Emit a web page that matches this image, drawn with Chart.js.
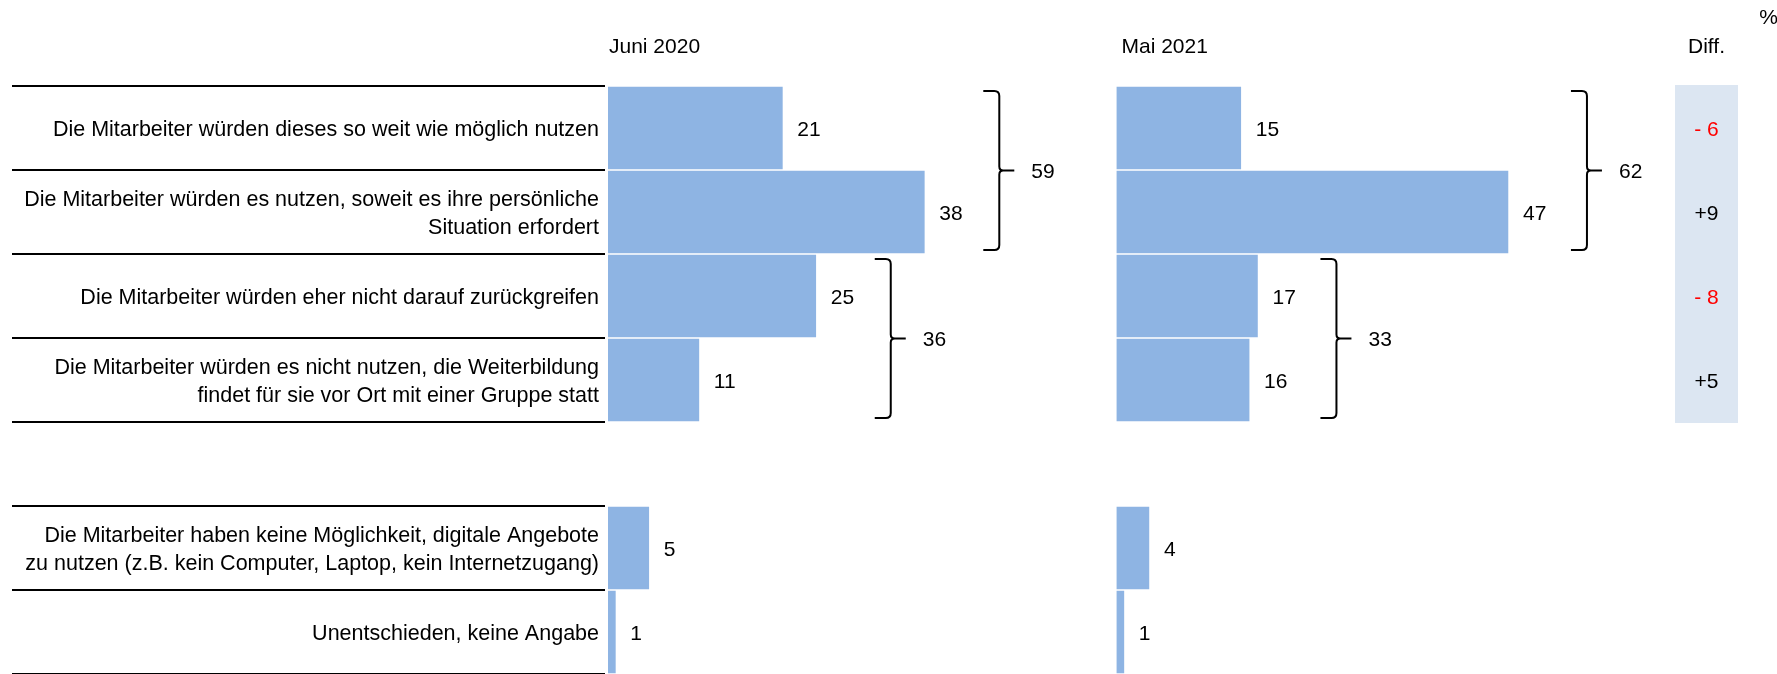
<!DOCTYPE html>
<html lang="de">
<head>
  <meta charset="UTF-8" />
  <title>Nutzung digitaler Weiterbildungsangebote</title>
  <script src="https://cdn.jsdelivr.net/npm/chart.js"></script>
  <style>
    html, body { margin: 0; padding: 0; background: #fff; }
    #wrap { position: relative; width: 1777px; height: 674px; }
  </style>
</head>
<body>
  <div id="wrap"><canvas id="chart" width="1777" height="674"></canvas></div>

  <script>
    // Antwortkategorien (leere Zeile trennt den unteren Block ab)
    const categories = [
      'Die Mitarbeiter würden dieses so weit wie möglich nutzen',
      ['Die Mitarbeiter würden es nutzen, soweit es ihre persönliche', 'Situation erfordert'],
      'Die Mitarbeiter würden eher nicht darauf zurückgreifen',
      ['Die Mitarbeiter würden es nicht nutzen, die Weiterbildung', 'findet für sie vor Ort mit einer Gruppe statt'],
      '',
      ['Die Mitarbeiter haben keine Möglichkeit, digitale Angebote', 'zu nutzen (z.B. kein Computer, Laptop, kein Internetzugang)'],
      'Unentschieden, keine Angabe'
    ];
    const juni2020 = [21, 38, 25, 11, null, 5, 1];
    const mai2021 = [15, 47, 17, 16, null, 4, 1];
    const periods = ['Juni 2020', 'Mai 2021'];
    const braceGroups = [[0, 1], [2, 3]];
    const diffRows = [0, 1, 2, 3];

    const FONT = "'Liberation Sans', Arial, sans-serif";
    const FS = 21;
    const LABEL_FS = 21.5;
    const LINE_H = 28;
    const BAR = '#8EB4E3';
    const UNIT = 8.35;          // Pixel pro Prozentpunkt
    const LEFT = 608;           // Beginn Balken Juni 2020
    const MAI_START = 1116.5;   // Beginn Balken Mai 2021
    const RIGHT = 1777;
    const DIFF_X = 1675, DIFF_W = 63;
    const BRACE_GAP = [58, 62]; // Abstand Klammer zum längsten Balken je Zeitpunkt

    function rowBounds(y, i) {
      const step = y.getPixelForValue(1) - y.getPixelForValue(0);
      const c = y.getPixelForValue(i);
      return { top: c - step / 2, bottom: c + step / 2, mid: c };
    }

    function drawBrace(ctx, x0, top, bottom) {
      const xv = x0 + 16, tip = x0 + 31, mid = (top + bottom) / 2, r = 5, m = 4;
      ctx.beginPath();
      ctx.moveTo(x0, top);
      ctx.lineTo(xv - r, top);
      ctx.quadraticCurveTo(xv, top, xv, top + r);
      ctx.lineTo(xv, mid - m);
      ctx.quadraticCurveTo(xv, mid, xv + m, mid);
      ctx.lineTo(tip, mid);
      ctx.moveTo(xv + m, mid);
      ctx.quadraticCurveTo(xv, mid, xv, mid + m);
      ctx.lineTo(xv, bottom - r);
      ctx.quadraticCurveTo(xv, bottom, xv - r, bottom);
      ctx.lineTo(x0, bottom);
      ctx.stroke();
      return tip;
    }

    const extras = {
      id: 'extras',
      afterDatasetsDraw(chart) {
        const ctx = chart.ctx;
        const y = chart.scales.y;
        ctx.save();
        ctx.textBaseline = 'middle';
        ctx.fillStyle = '#000';

        // Kategorienbeschriftung, rechtsbündig vor den Balken
        ctx.font = LABEL_FS + 'px ' + FONT;
        ctx.textAlign = 'right';
        categories.forEach((c, i) => {
          const lines = Array.isArray(c) ? c : [c];
          const y0 = y.getPixelForValue(i) + 2 - (lines.length - 1) * LINE_H / 2;
          lines.forEach((t, k) => ctx.fillText(t, LEFT - 9, y0 + k * LINE_H));
        });

        ctx.font = FS + 'px ' + FONT;

        // Spaltenköpfe
        ctx.textAlign = 'left';
        ctx.fillText(periods[0], LEFT + 1, 47);
        ctx.fillText(periods[1], MAI_START + 5, 47);
        ctx.textAlign = 'center';
        ctx.fillText('Diff.', DIFF_X + DIFF_W / 2, 47);
        ctx.textAlign = 'right';
        ctx.fillText('%', RIGHT + 1, 18);

        // Trennlinien im Beschriftungsbereich
        ctx.strokeStyle = '#000';
        ctx.lineWidth = 2;
        categories.forEach((c, i) => {
          const b = rowBounds(y, i);
          ctx.beginPath();
          ctx.moveTo(12, b.top);
          ctx.lineTo(605, b.top);
          if (i === categories.length - 1) {
            ctx.moveTo(12, b.bottom);
            ctx.lineTo(605, b.bottom);
          }
          ctx.stroke();
        });

        // Werte an den Balken
        ctx.textAlign = 'left';
        chart.data.datasets.forEach((ds, d) => {
          chart.getDatasetMeta(d).data.forEach((bar, i) => {
            if (ds.data[i] == null) return;
            ctx.fillText(String(ds.data[i]), bar.x + 14, bar.y + 2);
          });
        });

        // Klammern mit Summen
        ctx.lineWidth = 2;
        chart.data.datasets.forEach((ds, d) => {
          const xs = chart.scales[ds.xAxisID];
          braceGroups.forEach(g => {
            const vals = g.map(i => ds.data[i]);
            const sum = vals.reduce((a, b) => a + b, 0);
            const x0 = xs.getPixelForValue(Math.max(...vals)) + BRACE_GAP[d];
            const top = rowBounds(y, g[0]).top + 5;
            const bottom = rowBounds(y, g[g.length - 1]).bottom - 4;
            const tip = drawBrace(ctx, x0, top, bottom);
            ctx.fillText(String(sum), tip + 17, (top + bottom) / 2 + 2);
          });
        });

        // Differenzspalte
        const boxTop = rowBounds(y, diffRows[0]).top - 1;
        const boxBottom = rowBounds(y, diffRows[diffRows.length - 1]).bottom + 1;
        ctx.fillStyle = '#DCE6F2';
        ctx.fillRect(DIFF_X, boxTop, DIFF_W, boxBottom - boxTop);
        ctx.textAlign = 'center';
        diffRows.forEach(i => {
          const diff = mai2021[i] - juni2020[i];
          ctx.fillStyle = diff < 0 ? '#FF0000' : '#000';
          const txt = diff < 0 ? '- ' + Math.abs(diff) : '+' + diff;
          ctx.fillText(txt, DIFF_X + DIFF_W / 2, rowBounds(y, i).mid + 2);
        });
        ctx.restore();
      }
    };

    const barStyle = {
      backgroundColor: BAR,
      borderColor: '#fff',
      borderWidth: 1,
      barPercentage: 1,
      categoryPercentage: 1,
      grouped: false
    };

    new Chart(document.getElementById('chart'), {
      type: 'bar',
      data: {
        labels: categories,
        datasets: [
          Object.assign({ label: periods[0], data: juni2020, xAxisID: 'x' }, barStyle),
          Object.assign({ label: periods[1], data: mai2021, xAxisID: 'x2' }, barStyle)
        ]
      },
      options: {
        indexAxis: 'y',
        responsive: false,
        animation: false,
        layout: { padding: { top: 86, bottom: 0, left: 0, right: 0 } },
        scales: {
          y: {
            offset: true,
            grid: { display: false, drawTicks: false },
            border: { display: false },
            ticks: { display: false },
            afterFit(scale) {
              scale.width = LEFT;
              scale.paddingTop = 0;
              scale.paddingBottom = 0;
            }
          },
          x: { display: false, min: 0, max: (RIGHT - LEFT) / UNIT },
          x2: { display: false, min: -(MAI_START - LEFT) / UNIT, max: (RIGHT - MAI_START) / UNIT }
        },
        plugins: { legend: { display: false }, tooltip: { enabled: false } }
      },
      plugins: [extras]
    });
  </script>
</body>
</html>
